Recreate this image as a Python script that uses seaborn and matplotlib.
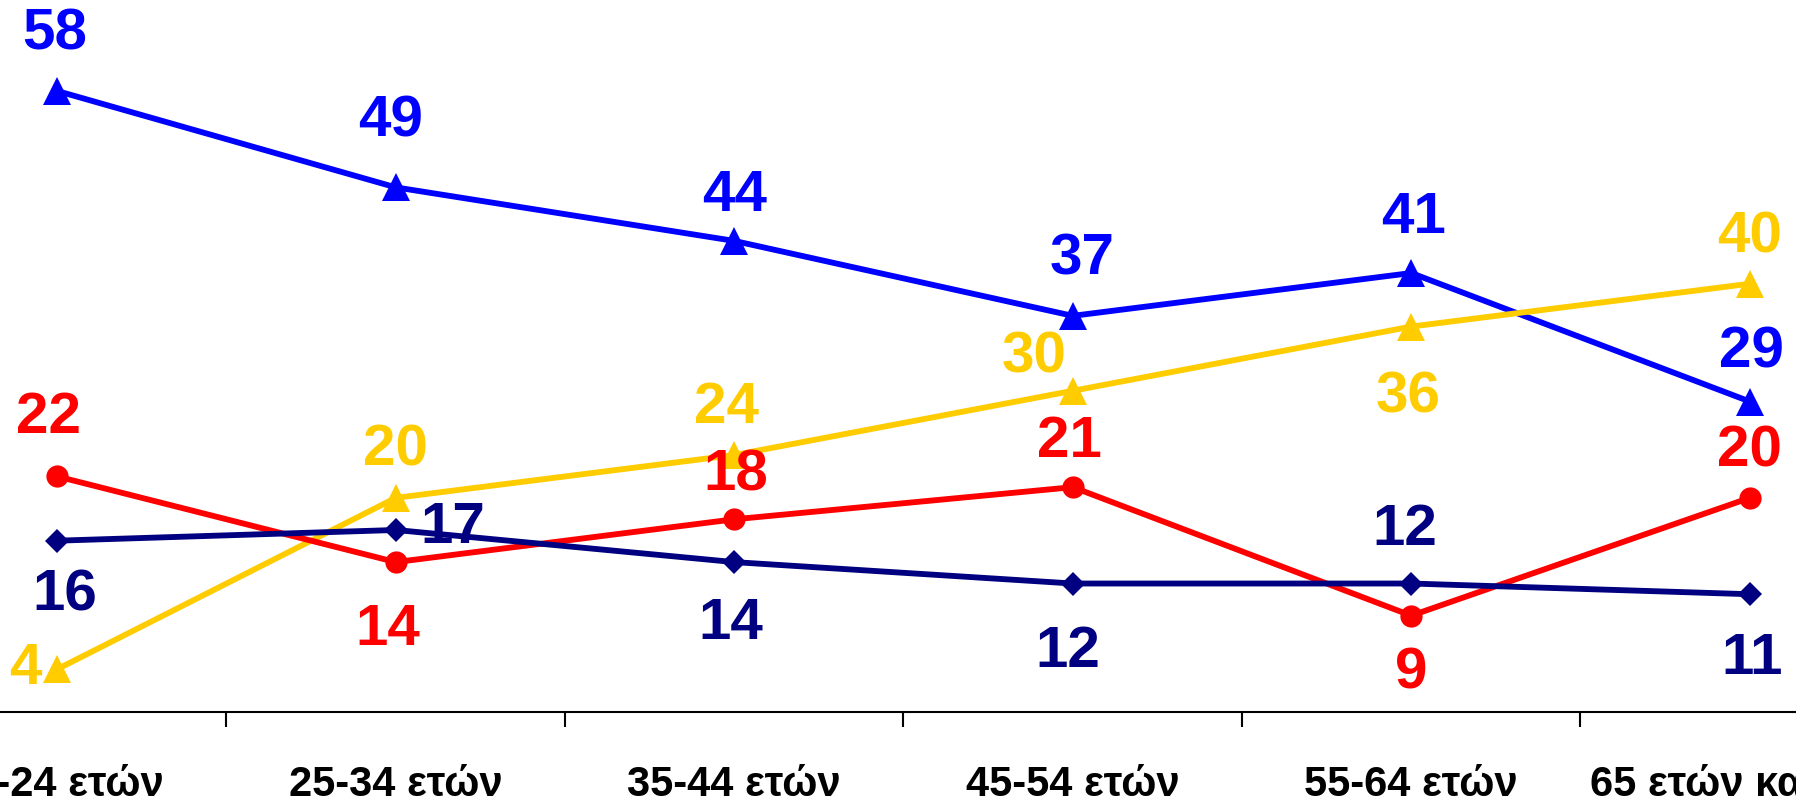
import matplotlib
matplotlib.use("Agg")
import matplotlib.pyplot as plt
import seaborn as sns
import numpy as np
from matplotlib import font_manager

categories = ["18-24 ετών", "25-34 ετών", "35-44 ετών", "45-54 ετών", "55-64 ετών", "65 ετών και άνω"]
blue_vals = [58, 49, 44, 37, 41, 29]
yellow_vals = [4, 20, 24, 30, 36, 40]
red_vals = [22, 14, 18, 21, 9, 20]
navy_vals = [16, 17, 14, 12, 12, 11]

# label offsets in pixels (dx, dy)
blue_off = [(-3, 57), (-5, 66), (0, 45), (9, 56), (2, 55), (2, 49)]
yellow_off = [(-32, 0), (0, 47), (-8, 47), (-39, 33), (-3, -71), (0, 46)]
red_off = [(-9, 58), (-8, -68), (2, 44), (-3, 45), (0, -58), (0, 46)]
navy_off = [(8, -55), (57, 2), (-3, -62), (-5, -68), (-6, 54), (2, -65)]

sns.set_theme(style="white")
avail = {f.name for f in font_manager.fontManager.ttflist}
fam = "Liberation Sans Narrow" if "Liberation Sans Narrow" in avail else "Liberation Sans"
plt.rcParams['font.family'] = [fam, 'DejaVu Sans']

fig = plt.figure(figsize=(17.96, 8.05), dpi=100)
ax = fig.add_axes([-112 / 1796, 93 / 805, 2031 / 1796, 712 / 805])

x = np.arange(len(categories))
series = [
    (blue_vals, "#0000FF", "^", 20, blue_off),
    (yellow_vals, "#FFCC00", "^", 20, yellow_off),
    (red_vals, "#FF0000", "o", 16, red_off),
    (navy_vals, "#000080", "D", 12, navy_off),
]
for vals, col, mk, ms, offs in series:
    sns.lineplot(x=x, y=vals, ax=ax, color=col, marker=mk, markersize=ms,
                 markeredgewidth=0, linewidth=4.2, legend=False)
for vals, col, mk, ms, offs in reversed(series):
    for xi, v, (dx, dy) in zip(x, vals, offs):
        ax.annotate(str(v), (xi, v), xytext=(dx, dy), textcoords="offset pixels",
                    ha="center", va="center", color=col, fontsize=42, fontweight="bold")

ax.set_xlim(-0.5, len(categories) - 0.5)
ax.set_ylim(0, 66.5)
ax.set_yticks([])
ax.set_xticks(np.arange(len(categories) - 1) + 0.5)
ax.set_xticklabels([])
ax.set_xticks(x, minor=True)
ax.set_xticklabels(categories, minor=True, fontsize=30, fontweight="bold", color="black")
ax.tick_params(axis="x", which="major", length=11, width=1.5, color="black", direction="out", bottom=True)
ax.tick_params(axis="x", which="minor", length=0, pad=38)
for s in ["top", "left", "right"]:
    ax.spines[s].set_visible(False)
ax.spines["bottom"].set_color("black")
ax.spines["bottom"].set_linewidth(1.5)
ax.set_xlabel("")
ax.set_ylabel("")
ax.patch.set_alpha(0)

fig.savefig("out.png", dpi=100, facecolor="white")
